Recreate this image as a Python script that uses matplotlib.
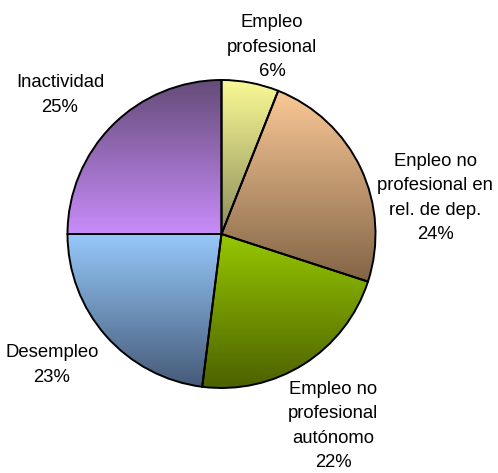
import numpy as np
import matplotlib
matplotlib.use("Agg")
import matplotlib.pyplot as plt
from matplotlib.colors import LinearSegmentedColormap

plt.rcParams['font.family'] = ['Liberation Sans', 'DejaVu Sans']

categories = ['Empleo\nprofesional', 'Enpleo no\nprofesional en\nrel. de dep.',
              'Empleo no\nprofesional\nautónomo', 'Desempleo', 'Inactividad']
values = [6, 24, 22, 23, 25]

# gradient (top colour, bottom colour) per slice
gradients = [('#fafa96', '#8c8c5a'),
             ('#fac896', '#826446'),
             ('#96c800', '#4b5f00'),
             ('#96c8fa', '#465a78'),
             ('#644b78', '#c88cfa')]

# label centres in pixels (x, y from top)
label_pos = [(272, 47), (435, 198), (333, 426), (52, 365), (60, 95)]

W, H = 498, 473
fig = plt.figure(figsize=(W / 100, H / 100), dpi=100)
cx, cy, r = 221.5, 234, 154
pad = 1.02
ax = fig.add_axes([(cx - r * pad) / W, (H - cy - r * pad) / H,
                   2 * r * pad / W, 2 * r * pad / H])

wedges, _ = ax.pie(values, startangle=90, counterclock=False, radius=1,
                   wedgeprops=dict(facecolor='none', edgecolor='black', linewidth=1.4))

for w, (top, bot) in zip(wedges, gradients):
    w.set_zorder(3)
    verts = w.get_path().vertices
    x0, x1 = verts[:, 0].min(), verts[:, 0].max()
    y0, y1 = verts[:, 1].min(), verts[:, 1].max()
    cmap = LinearSegmentedColormap.from_list('g', [bot, top])
    grad = np.linspace(0, 1, 256).reshape(-1, 1)
    im = ax.imshow(grad, cmap=cmap, origin='lower', aspect='auto',
                   extent=[x0, x1, y0, y1], zorder=2, interpolation='bilinear')
    im.set_clip_path(w)

ax.set_xlim(-pad, pad)
ax.set_ylim(-pad, pad)
ax.set_axis_off()
ax.set_position([(cx - r * pad) / W, (H - cy - r * pad) / H,
                 2 * r * pad / W, 2 * r * pad / H])

for cat, v, (px, py) in zip(categories, values, label_pos):
    fig.text(px / W, 1 - py / H, f'{cat}\n{v}%', ha='center', va='center',
             fontsize=13.3, linespacing=1.55)

fig.savefig('out.png', dpi=100)
